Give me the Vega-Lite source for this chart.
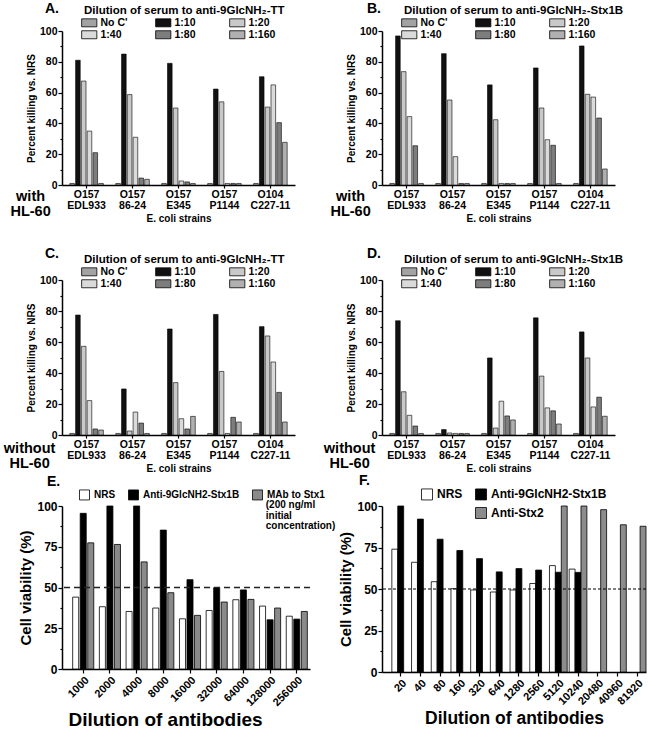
{
"$schema": "https://vega.github.io/schema/vega-lite/v6.json",
"background": "white",
"padding": {"left": 3, "top": 2, "right": 0, "bottom": 0},
"config": {
  "font": "Liberation Sans",
  "view": {"stroke": null},
  "axis": {"grid": false, "domainColor": "black", "domainWidth": 1.5, "tickColor": "black", "tickWidth": 1.2, "labelColor": "black", "labelFontWeight": "bold", "titleColor": "black", "titleFontWeight": "bold"},
  "legend": {"labelColor": "black", "labelFontWeight": "bold", "titleColor": "black", "titleFontWeight": "bold", "padding": 0, "symbolStrokeColor": "black", "symbolStrokeWidth": 0.8, "symbolOpacity": 1, "titleLimit": 400},
  "title": {"color": "black", "fontWeight": "bold", "fontSize": 14, "anchor": "start", "frame": "group"}
},
"datasets": {
  "killing": [
    {"panel":"A","strain":"O157 EDL933","dilution":"No C'","value":1},
    {"panel":"A","strain":"O157 EDL933","dilution":"1:10","value":81},
    {"panel":"A","strain":"O157 EDL933","dilution":"1:20","value":67.5},
    {"panel":"A","strain":"O157 EDL933","dilution":"1:40","value":35},
    {"panel":"A","strain":"O157 EDL933","dilution":"1:80","value":21},
    {"panel":"A","strain":"O157 EDL933","dilution":"1:160","value":1},
    {"panel":"A","strain":"O157 86-24","dilution":"No C'","value":1},
    {"panel":"A","strain":"O157 86-24","dilution":"1:10","value":85},
    {"panel":"A","strain":"O157 86-24","dilution":"1:20","value":58.7},
    {"panel":"A","strain":"O157 86-24","dilution":"1:40","value":31},
    {"panel":"A","strain":"O157 86-24","dilution":"1:80","value":4.5},
    {"panel":"A","strain":"O157 86-24","dilution":"1:160","value":3.7},
    {"panel":"A","strain":"O157 E345","dilution":"No C'","value":1},
    {"panel":"A","strain":"O157 E345","dilution":"1:10","value":79},
    {"panel":"A","strain":"O157 E345","dilution":"1:20","value":50},
    {"panel":"A","strain":"O157 E345","dilution":"1:40","value":2.6},
    {"panel":"A","strain":"O157 E345","dilution":"1:80","value":2},
    {"panel":"A","strain":"O157 E345","dilution":"1:160","value":1},
    {"panel":"A","strain":"O157 P1144","dilution":"No C'","value":1},
    {"panel":"A","strain":"O157 P1144","dilution":"1:10","value":62.3},
    {"panel":"A","strain":"O157 P1144","dilution":"1:20","value":54},
    {"panel":"A","strain":"O157 P1144","dilution":"1:40","value":1},
    {"panel":"A","strain":"O157 P1144","dilution":"1:80","value":1},
    {"panel":"A","strain":"O157 P1144","dilution":"1:160","value":1},
    {"panel":"A","strain":"O104 C227-11","dilution":"No C'","value":1},
    {"panel":"A","strain":"O104 C227-11","dilution":"1:10","value":70.3},
    {"panel":"A","strain":"O104 C227-11","dilution":"1:20","value":50.6},
    {"panel":"A","strain":"O104 C227-11","dilution":"1:40","value":65},
    {"panel":"A","strain":"O104 C227-11","dilution":"1:80","value":40.5},
    {"panel":"A","strain":"O104 C227-11","dilution":"1:160","value":27.7},
    {"panel":"B","strain":"O157 EDL933","dilution":"No C'","value":1},
    {"panel":"B","strain":"O157 EDL933","dilution":"1:10","value":96.8},
    {"panel":"B","strain":"O157 EDL933","dilution":"1:20","value":73.6},
    {"panel":"B","strain":"O157 EDL933","dilution":"1:40","value":44.4},
    {"panel":"B","strain":"O157 EDL933","dilution":"1:80","value":25.5},
    {"panel":"B","strain":"O157 EDL933","dilution":"1:160","value":1},
    {"panel":"B","strain":"O157 86-24","dilution":"No C'","value":1},
    {"panel":"B","strain":"O157 86-24","dilution":"1:10","value":85.3},
    {"panel":"B","strain":"O157 86-24","dilution":"1:20","value":55.2},
    {"panel":"B","strain":"O157 86-24","dilution":"1:40","value":18.4},
    {"panel":"B","strain":"O157 86-24","dilution":"1:80","value":1},
    {"panel":"B","strain":"O157 86-24","dilution":"1:160","value":1},
    {"panel":"B","strain":"O157 E345","dilution":"No C'","value":1},
    {"panel":"B","strain":"O157 E345","dilution":"1:10","value":65},
    {"panel":"B","strain":"O157 E345","dilution":"1:20","value":42.4},
    {"panel":"B","strain":"O157 E345","dilution":"1:40","value":1},
    {"panel":"B","strain":"O157 E345","dilution":"1:80","value":1},
    {"panel":"B","strain":"O157 E345","dilution":"1:160","value":1},
    {"panel":"B","strain":"O157 P1144","dilution":"No C'","value":1},
    {"panel":"B","strain":"O157 P1144","dilution":"1:10","value":76},
    {"panel":"B","strain":"O157 P1144","dilution":"1:20","value":50},
    {"panel":"B","strain":"O157 P1144","dilution":"1:40","value":29.4},
    {"panel":"B","strain":"O157 P1144","dilution":"1:80","value":25.8},
    {"panel":"B","strain":"O157 P1144","dilution":"1:160","value":1},
    {"panel":"B","strain":"O104 C227-11","dilution":"No C'","value":1},
    {"panel":"B","strain":"O104 C227-11","dilution":"1:10","value":90.3},
    {"panel":"B","strain":"O104 C227-11","dilution":"1:20","value":58.9},
    {"panel":"B","strain":"O104 C227-11","dilution":"1:40","value":57.1},
    {"panel":"B","strain":"O104 C227-11","dilution":"1:80","value":43.5},
    {"panel":"B","strain":"O104 C227-11","dilution":"1:160","value":10.4},
    {"panel":"C","strain":"O157 EDL933","dilution":"No C'","value":1},
    {"panel":"C","strain":"O157 EDL933","dilution":"1:10","value":77.4},
    {"panel":"C","strain":"O157 EDL933","dilution":"1:20","value":57.2},
    {"panel":"C","strain":"O157 EDL933","dilution":"1:40","value":22.2},
    {"panel":"C","strain":"O157 EDL933","dilution":"1:80","value":3.9},
    {"panel":"C","strain":"O157 EDL933","dilution":"1:160","value":3.2},
    {"panel":"C","strain":"O157 86-24","dilution":"No C'","value":1},
    {"panel":"C","strain":"O157 86-24","dilution":"1:10","value":29.7},
    {"panel":"C","strain":"O157 86-24","dilution":"1:20","value":2.6},
    {"panel":"C","strain":"O157 86-24","dilution":"1:40","value":14.8},
    {"panel":"C","strain":"O157 86-24","dilution":"1:80","value":7.7},
    {"panel":"C","strain":"O157 86-24","dilution":"1:160","value":1},
    {"panel":"C","strain":"O157 E345","dilution":"No C'","value":1},
    {"panel":"C","strain":"O157 E345","dilution":"1:10","value":68.4},
    {"panel":"C","strain":"O157 E345","dilution":"1:20","value":33.8},
    {"panel":"C","strain":"O157 E345","dilution":"1:40","value":10.5},
    {"panel":"C","strain":"O157 E345","dilution":"1:80","value":3.9},
    {"panel":"C","strain":"O157 E345","dilution":"1:160","value":12},
    {"panel":"C","strain":"O157 P1144","dilution":"No C'","value":1},
    {"panel":"C","strain":"O157 P1144","dilution":"1:10","value":77.8},
    {"panel":"C","strain":"O157 P1144","dilution":"1:20","value":41},
    {"panel":"C","strain":"O157 P1144","dilution":"1:40","value":1},
    {"panel":"C","strain":"O157 P1144","dilution":"1:80","value":11.4},
    {"panel":"C","strain":"O157 P1144","dilution":"1:160","value":8.4},
    {"panel":"C","strain":"O104 C227-11","dilution":"No C'","value":1},
    {"panel":"C","strain":"O104 C227-11","dilution":"1:10","value":69.9},
    {"panel":"C","strain":"O104 C227-11","dilution":"1:20","value":63.9},
    {"panel":"C","strain":"O104 C227-11","dilution":"1:40","value":47.1},
    {"panel":"C","strain":"O104 C227-11","dilution":"1:80","value":27.5},
    {"panel":"C","strain":"O104 C227-11","dilution":"1:160","value":8.4},
    {"panel":"D","strain":"O157 EDL933","dilution":"No C'","value":1},
    {"panel":"D","strain":"O157 EDL933","dilution":"1:10","value":73.7},
    {"panel":"D","strain":"O157 EDL933","dilution":"1:20","value":27.9},
    {"panel":"D","strain":"O157 EDL933","dilution":"1:40","value":12.7},
    {"panel":"D","strain":"O157 EDL933","dilution":"1:80","value":5.8},
    {"panel":"D","strain":"O157 EDL933","dilution":"1:160","value":1},
    {"panel":"D","strain":"O157 86-24","dilution":"No C'","value":1},
    {"panel":"D","strain":"O157 86-24","dilution":"1:10","value":3.5},
    {"panel":"D","strain":"O157 86-24","dilution":"1:20","value":1.3},
    {"panel":"D","strain":"O157 86-24","dilution":"1:40","value":1},
    {"panel":"D","strain":"O157 86-24","dilution":"1:80","value":1},
    {"panel":"D","strain":"O157 86-24","dilution":"1:160","value":1},
    {"panel":"D","strain":"O157 E345","dilution":"No C'","value":1},
    {"panel":"D","strain":"O157 E345","dilution":"1:10","value":49.7},
    {"panel":"D","strain":"O157 E345","dilution":"1:20","value":4.5},
    {"panel":"D","strain":"O157 E345","dilution":"1:40","value":21.8},
    {"panel":"D","strain":"O157 E345","dilution":"1:80","value":12.3},
    {"panel":"D","strain":"O157 E345","dilution":"1:160","value":9.7},
    {"panel":"D","strain":"O157 P1144","dilution":"No C'","value":1},
    {"panel":"D","strain":"O157 P1144","dilution":"1:10","value":75.6},
    {"panel":"D","strain":"O157 P1144","dilution":"1:20","value":38},
    {"panel":"D","strain":"O157 P1144","dilution":"1:40","value":17.5},
    {"panel":"D","strain":"O157 P1144","dilution":"1:80","value":15.6},
    {"panel":"D","strain":"O157 P1144","dilution":"1:160","value":7.1},
    {"panel":"D","strain":"O104 C227-11","dilution":"No C'","value":1},
    {"panel":"D","strain":"O104 C227-11","dilution":"1:10","value":66.5},
    {"panel":"D","strain":"O104 C227-11","dilution":"1:20","value":49.7},
    {"panel":"D","strain":"O104 C227-11","dilution":"1:40","value":18.1},
    {"panel":"D","strain":"O104 C227-11","dilution":"1:80","value":24.4},
    {"panel":"D","strain":"O104 C227-11","dilution":"1:160","value":12.1}
  ],
  "viabilityE": [
    {"dilution":"1000","series":"NRS","value":44.1},
    {"dilution":"1000","series":"Anti-9GlcNH2-Stx1B","value":95.5},
    {"dilution":"1000","series":"MAb to Stx1","value":77.4},
    {"dilution":"2000","series":"NRS","value":38.2},
    {"dilution":"2000","series":"Anti-9GlcNH2-Stx1B","value":100},
    {"dilution":"2000","series":"MAb to Stx1","value":76.4},
    {"dilution":"4000","series":"NRS","value":35.3},
    {"dilution":"4000","series":"Anti-9GlcNH2-Stx1B","value":100},
    {"dilution":"4000","series":"MAb to Stx1","value":65.7},
    {"dilution":"8000","series":"NRS","value":37.4},
    {"dilution":"8000","series":"Anti-9GlcNH2-Stx1B","value":85.2},
    {"dilution":"8000","series":"MAb to Stx1","value":46.8},
    {"dilution":"16000","series":"NRS","value":30.8},
    {"dilution":"16000","series":"Anti-9GlcNH2-Stx1B","value":54.8},
    {"dilution":"16000","series":"MAb to Stx1","value":32.9},
    {"dilution":"32000","series":"NRS","value":35.9},
    {"dilution":"32000","series":"Anti-9GlcNH2-Stx1B","value":49.9},
    {"dilution":"32000","series":"MAb to Stx1","value":41.1},
    {"dilution":"64000","series":"NRS","value":42.5},
    {"dilution":"64000","series":"Anti-9GlcNH2-Stx1B","value":48.5},
    {"dilution":"64000","series":"MAb to Stx1","value":42.7},
    {"dilution":"128000","series":"NRS","value":38.6},
    {"dilution":"128000","series":"Anti-9GlcNH2-Stx1B","value":30.2},
    {"dilution":"128000","series":"MAb to Stx1","value":37.4},
    {"dilution":"256000","series":"NRS","value":32.4},
    {"dilution":"256000","series":"Anti-9GlcNH2-Stx1B","value":30.6},
    {"dilution":"256000","series":"MAb to Stx1","value":35.3}
  ],
  "viabilityF": [
    {"dilution":"20","series":"NRS","value":74},
    {"dilution":"20","series":"Anti-9GlcNH2-Stx1B","value":100},
    {"dilution":"40","series":"NRS","value":66.1},
    {"dilution":"40","series":"Anti-9GlcNH2-Stx1B","value":92.1},
    {"dilution":"80","series":"NRS","value":54.4},
    {"dilution":"80","series":"Anti-9GlcNH2-Stx1B","value":80},
    {"dilution":"160","series":"NRS","value":50.2},
    {"dilution":"160","series":"Anti-9GlcNH2-Stx1B","value":73.2},
    {"dilution":"320","series":"NRS","value":49.4},
    {"dilution":"320","series":"Anti-9GlcNH2-Stx1B","value":68.3},
    {"dilution":"640","series":"NRS","value":48.2},
    {"dilution":"640","series":"Anti-9GlcNH2-Stx1B","value":60.3},
    {"dilution":"1280","series":"NRS","value":49.4},
    {"dilution":"1280","series":"Anti-9GlcNH2-Stx1B","value":62.3},
    {"dilution":"2560","series":"NRS","value":53.3},
    {"dilution":"2560","series":"Anti-9GlcNH2-Stx1B","value":61.4},
    {"dilution":"5120","series":"NRS","value":64.1},
    {"dilution":"5120","series":"Anti-9GlcNH2-Stx1B","value":60.1},
    {"dilution":"5120","series":"Anti-Stx2","value":100},
    {"dilution":"10240","series":"NRS","value":62},
    {"dilution":"10240","series":"Anti-9GlcNH2-Stx1B","value":60},
    {"dilution":"10240","series":"Anti-Stx2","value":100},
    {"dilution":"20480","series":"Anti-Stx2","value":97.8},
    {"dilution":"40960","series":"Anti-Stx2","value":88.7},
    {"dilution":"81920","series":"Anti-Stx2","value":87.8}
  ]
},
"columns": 2,
"bounds": "flush",
"align": {"row": "each", "column": "none"},
"spacing": {"row": 71, "column": 72},
"resolve": {"scale": {"fill": "independent", "xOffset": "independent", "x": "independent", "y": "independent"}, "legend": {"fill": "independent"}},
"concat": [
  {
    "width": 239, "height": 154,
    "title": {"text": "A.", "dx": -17, "dy": 15},
    "layer": [
      {
        "data": {"name": "killing"},
        "transform": [{"filter": "datum.panel === 'A'"}],
        "mark": {"type": "bar", "stroke": "black", "strokeWidth": 0.6},
        "encoding": {
          "x": {"field": "strain", "type": "nominal",
                "scale": {"domain": ["O157 EDL933","O157 86-24","O157 E345","O157 P1144","O104 C227-11"], "range": [0, 233], "paddingInner": 0.27, "paddingOuter": 0.17},
                "axis": {"title": "E. coli strains", "titleFontSize": 10, "titlePadding": 2, "labelExpr": "split(datum.label, ' ')", "labelAngle": 0, "labelFontSize": 10.5, "labelLineHeight": 11.5, "labelPadding": 1, "tickSize": 3}},
          "xOffset": {"field": "dilution", "type": "nominal", "scale": {"domain": ["No C'","1:10","1:20","1:40","1:80","1:160"], "paddingInner": 0.2}},
          "y": {"field": "value", "type": "quantitative", "scale": {"domain": [0, 100]},
                "axis": {"title": "Percent killing vs. NRS", "titleFontSize": 10, "titlePadding": 3, "values": [0,10,20,30,40,50,60,70,80,90,100], "tickCount": 40, "labelOverlap": false, "labelExpr": "datum.value % 20 === 0 ? datum.label : ''", "labelFontSize": 10.5, "labelPadding": 1, "tickSize": {"condition": {"test": "datum.value % 20 !== 0", "value": 2}, "value": 4}}},
          "fill": {"field": "dilution", "type": "nominal",
                   "scale": {"domain": ["No C'","1:10","1:20","1:40","1:80","1:160"], "range": ["#a3a3a3","#111111","#c9c9c9","#dadada","#7d7d7d","#b0b0b0"]},
                   "legend": {"orient": "none", "legendX": 22, "legendY": -26, "direction": "horizontal", "columns": 3, "gridAlign": "all", "title": "Dilution of serum to anti-9GlcNH₂-TT", "titleFontSize": 11.5, "titleAnchor": "start", "titlePadding": 1, "labelFontSize": 10.5, "labelOffset": 6, "columnPadding": 26, "rowPadding": 0, "symbolType": "M-1.9,-1H1.9V1H-1.9Z", "symbolSize": 64}}
        }
      },
      {
        "data": {"values": [{}]},
        "mark": {"type": "text", "fontWeight": "bold", "fontSize": 14.5, "lineHeight": 15, "align": "center", "baseline": "top", "dx": -56, "dy": 5, "color": "black"},
        "encoding": {"x": {"datum": "O157 EDL933", "type": "nominal"}, "y": {"datum": 0, "type": "quantitative"}, "text": {"value": ["with", "HL-60"]}}
      }
    ]
  },
  {
    "width": 239, "height": 154,
    "title": {"text": "B.", "dx": -15, "dy": 15},
    "layer": [
      {
        "data": {"name": "killing"},
        "transform": [{"filter": "datum.panel === 'B'"}],
        "mark": {"type": "bar", "stroke": "black", "strokeWidth": 0.6},
        "encoding": {
          "x": {"field": "strain", "type": "nominal",
                "scale": {"domain": ["O157 EDL933","O157 86-24","O157 E345","O157 P1144","O104 C227-11"], "range": [0, 233], "paddingInner": 0.27, "paddingOuter": 0.17},
                "axis": {"title": "E. coli strains", "titleFontSize": 10, "titlePadding": 2, "labelExpr": "split(datum.label, ' ')", "labelAngle": 0, "labelFontSize": 10.5, "labelLineHeight": 11.5, "labelPadding": 1, "tickSize": 3}},
          "xOffset": {"field": "dilution", "type": "nominal", "scale": {"domain": ["No C'","1:10","1:20","1:40","1:80","1:160"], "paddingInner": 0.2}},
          "y": {"field": "value", "type": "quantitative", "scale": {"domain": [0, 100]},
                "axis": {"title": "Percent killing vs. NRS", "titleFontSize": 10, "titlePadding": 3, "values": [0,10,20,30,40,50,60,70,80,90,100], "tickCount": 40, "labelOverlap": false, "labelExpr": "datum.value % 20 === 0 ? datum.label : ''", "labelFontSize": 10.5, "labelPadding": 1, "tickSize": {"condition": {"test": "datum.value % 20 !== 0", "value": 2}, "value": 4}}},
          "fill": {"field": "dilution", "type": "nominal",
                   "scale": {"domain": ["No C'","1:10","1:20","1:40","1:80","1:160"], "range": ["#a3a3a3","#111111","#c9c9c9","#dadada","#7d7d7d","#b0b0b0"]},
                   "legend": {"orient": "none", "legendX": 22, "legendY": -26, "direction": "horizontal", "columns": 3, "gridAlign": "all", "title": "Dilution of serum to anti-9GlcNH₂-Stx1B", "titleFontSize": 11.5, "titleAnchor": "start", "titlePadding": 1, "labelFontSize": 10.5, "labelOffset": 6, "columnPadding": 26, "rowPadding": 0, "symbolType": "M-1.9,-1H1.9V1H-1.9Z", "symbolSize": 64}}
        }
      },
      {
        "data": {"values": [{}]},
        "mark": {"type": "text", "fontWeight": "bold", "fontSize": 14.5, "lineHeight": 15, "align": "center", "baseline": "top", "dx": -56, "dy": 5, "color": "black"},
        "encoding": {"x": {"datum": "O157 EDL933", "type": "nominal"}, "y": {"datum": 0, "type": "quantitative"}, "text": {"value": ["with", "HL-60"]}}
      }
    ]
  },
  {
    "width": 239, "height": 179,
    "title": {"text": "C.", "dx": -17, "dy": 11},
    "layer": [
      {
        "data": {"name": "killing"},
        "transform": [{"filter": "datum.panel === 'C'"}],
        "mark": {"type": "bar", "stroke": "black", "strokeWidth": 0.6},
        "encoding": {
          "x": {"field": "strain", "type": "nominal",
                "scale": {"domain": ["O157 EDL933","O157 86-24","O157 E345","O157 P1144","O104 C227-11"], "range": [0, 233], "paddingInner": 0.27, "paddingOuter": 0.17},
                "axis": {"title": "E. coli strains", "titleFontSize": 10, "titlePadding": 2, "labelExpr": "split(datum.label, ' ')", "labelAngle": 0, "labelFontSize": 10.5, "labelLineHeight": 11.5, "labelPadding": 1, "tickSize": 3}},
          "xOffset": {"field": "dilution", "type": "nominal", "scale": {"domain": ["No C'","1:10","1:20","1:40","1:80","1:160"], "paddingInner": 0.2}},
          "y": {"field": "value", "type": "quantitative", "scale": {"domain": [0, 100], "range": [179, 24]},
                "axis": {"title": "Percent killing vs. NRS", "titleFontSize": 10, "titlePadding": 3, "values": [0,10,20,30,40,50,60,70,80,90,100], "tickCount": 40, "labelOverlap": false, "labelExpr": "datum.value % 20 === 0 ? datum.label : ''", "labelFontSize": 10.5, "labelPadding": 1, "tickSize": {"condition": {"test": "datum.value % 20 !== 0", "value": 2}, "value": 4}}},
          "fill": {"field": "dilution", "type": "nominal",
                   "scale": {"domain": ["No C'","1:10","1:20","1:40","1:80","1:160"], "range": ["#a3a3a3","#111111","#c9c9c9","#dadada","#7d7d7d","#b0b0b0"]},
                   "legend": {"orient": "none", "legendX": 22, "legendY": -2, "direction": "horizontal", "columns": 3, "gridAlign": "all", "title": "Dilution of serum to anti-9GlcNH₂-TT", "titleFontSize": 11.5, "titleAnchor": "start", "titlePadding": 1, "labelFontSize": 10.5, "labelOffset": 6, "columnPadding": 26, "rowPadding": 0, "symbolType": "M-1.9,-1H1.9V1H-1.9Z", "symbolSize": 64}}
        }
      },
      {
        "data": {"values": [{}]},
        "mark": {"type": "text", "fontWeight": "bold", "fontSize": 14.5, "lineHeight": 15, "align": "center", "baseline": "top", "dx": -57, "dy": 7, "color": "black"},
        "encoding": {"x": {"datum": "O157 EDL933", "type": "nominal"}, "y": {"datum": 0, "type": "quantitative"}, "text": {"value": ["without", "HL-60"]}}
      }
    ]
  },
  {
    "width": 239, "height": 179,
    "title": {"text": "D.", "dx": -15, "dy": 11},
    "layer": [
      {
        "data": {"name": "killing"},
        "transform": [{"filter": "datum.panel === 'D'"}],
        "mark": {"type": "bar", "stroke": "black", "strokeWidth": 0.6},
        "encoding": {
          "x": {"field": "strain", "type": "nominal",
                "scale": {"domain": ["O157 EDL933","O157 86-24","O157 E345","O157 P1144","O104 C227-11"], "range": [0, 233], "paddingInner": 0.27, "paddingOuter": 0.17},
                "axis": {"title": "E. coli strains", "titleFontSize": 10, "titlePadding": 2, "labelExpr": "split(datum.label, ' ')", "labelAngle": 0, "labelFontSize": 10.5, "labelLineHeight": 11.5, "labelPadding": 1, "tickSize": 3}},
          "xOffset": {"field": "dilution", "type": "nominal", "scale": {"domain": ["No C'","1:10","1:20","1:40","1:80","1:160"], "paddingInner": 0.2}},
          "y": {"field": "value", "type": "quantitative", "scale": {"domain": [0, 100], "range": [179, 24]},
                "axis": {"title": "Percent killing vs. NRS", "titleFontSize": 10, "titlePadding": 3, "values": [0,10,20,30,40,50,60,70,80,90,100], "tickCount": 40, "labelOverlap": false, "labelExpr": "datum.value % 20 === 0 ? datum.label : ''", "labelFontSize": 10.5, "labelPadding": 1, "tickSize": {"condition": {"test": "datum.value % 20 !== 0", "value": 2}, "value": 4}}},
          "fill": {"field": "dilution", "type": "nominal",
                   "scale": {"domain": ["No C'","1:10","1:20","1:40","1:80","1:160"], "range": ["#a3a3a3","#111111","#c9c9c9","#dadada","#7d7d7d","#b0b0b0"]},
                   "legend": {"orient": "none", "legendX": 22, "legendY": -2, "direction": "horizontal", "columns": 3, "gridAlign": "all", "title": "Dilution of serum to anti-9GlcNH₂-Stx1B", "titleFontSize": 11.5, "titleAnchor": "start", "titlePadding": 1, "labelFontSize": 10.5, "labelOffset": 6, "columnPadding": 26, "rowPadding": 0, "symbolType": "M-1.9,-1H1.9V1H-1.9Z", "symbolSize": 64}}
        }
      },
      {
        "data": {"values": [{}]},
        "mark": {"type": "text", "fontWeight": "bold", "fontSize": 14.5, "lineHeight": 15, "align": "center", "baseline": "top", "dx": -57, "dy": 7, "color": "black"},
        "encoding": {"x": {"datum": "O157 EDL933", "type": "nominal"}, "y": {"datum": 0, "type": "quantitative"}, "text": {"value": ["without", "HL-60"]}}
      }
    ]
  },
  {
    "width": 248, "height": 163,
    "title": {"text": "E.", "dx": -15, "dy": 4},
    "layer": [
      {
        "data": {"name": "viabilityE"},
        "mark": {"type": "bar", "stroke": "black", "strokeWidth": 0.8},
        "encoding": {
          "x": {"field": "dilution", "type": "nominal",
                "scale": {"domain": ["1000","2000","4000","8000","16000","32000","64000","128000","256000"], "paddingInner": 0.21, "paddingOuter": 0.25, "align": 0.8},
                "axis": {"title": "Dilution of antibodies", "titleFontSize": 19, "titlePadding": 3, "titleX": 103, "labelAngle": -45, "labelFontSize": 11, "labelPadding": 1, "tickSize": 4}},
          "xOffset": {"field": "series", "type": "nominal", "scale": {"domain": ["NRS","Anti-9GlcNH2-Stx1B","MAb to Stx1"], "paddingInner": 0.2}},
          "y": {"field": "value", "type": "quantitative", "scale": {"domain": [0, 100]},
                "axis": {"title": "Cell viability (%)", "titleFontSize": 15, "titlePadding": 3, "values": [0,12.5,25,37.5,50,62.5,75,87.5,100], "tickCount": 40, "labelOverlap": false, "labelExpr": "datum.value % 25 === 0 ? datum.label : ''", "labelFontSize": 12, "labelPadding": 1, "tickSize": {"condition": {"test": "datum.value % 25 !== 0", "value": 2}, "value": 4}}},
          "fill": {"field": "series", "type": "nominal",
                   "scale": {"domain": ["NRS","Anti-9GlcNH2-Stx1B","MAb to Stx1"], "range": ["white","black","#8a8a8a"]},
                   "legend": {"orient": "none", "legendX": 17, "legendY": -17, "direction": "horizontal", "columns": 3, "gridAlign": "each", "title": null, "labelFontSize": 10, "labelOffset": 4, "columnPadding": 10, "symbolType": "square", "symbolSize": 100}}
        }
      },
      {
        "data": {"values": [{}]},
        "mark": {"type": "text", "fontWeight": "bold", "fontSize": 10, "lineHeight": 10.5, "align": "left", "baseline": "top", "dx": -31, "dy": -6, "color": "black"},
        "encoding": {"x": {"datum": "256000", "type": "nominal"}, "y": {"datum": 100, "type": "quantitative"}, "text": {"value": ["(200 ng/ml", "initial", "concentration)"]}}
      },
      {
        "data": {"values": [{}]},
        "mark": {"type": "rule", "strokeDash": [6, 4], "strokeWidth": 1.5, "color": "#222222"},
        "encoding": {"y": {"datum": 50, "type": "quantitative"}}
      }
    ]
  },
  {
    "width": 264, "height": 166,
    "title": {"text": "F.", "dx": -23, "dy": 4},
    "layer": [
      {
        "data": {"name": "viabilityF"},
        "mark": {"type": "bar", "stroke": "black", "strokeWidth": 0.8},
        "encoding": {
          "x": {"field": "dilution", "type": "nominal",
                "scale": {"domain": ["20","40","80","160","320","640","1280","2560","5120","10240","20480","40960","81920"], "paddingInner": 0.1, "paddingOuter": 0.25, "align": 1},
                "axis": {"title": "Dilution of antibodies", "titleFontSize": 17.5, "titlePadding": 3, "labelAngle": -45, "labelFontSize": 11, "labelPadding": 1, "tickSize": 4}},
          "xOffset": {"field": "series", "type": "nominal", "scale": {"domain": ["NRS","Anti-9GlcNH2-Stx1B","Anti-Stx2"], "paddingInner": 0}},
          "y": {"field": "value", "type": "quantitative", "scale": {"domain": [0, 100]},
                "axis": {"title": "Cell viability (%)", "titleFontSize": 15, "titlePadding": 3, "values": [0,12.5,25,37.5,50,62.5,75,87.5,100], "tickCount": 40, "labelOverlap": false, "labelExpr": "datum.value % 25 === 0 ? datum.label : ''", "labelFontSize": 12, "labelPadding": 1, "tickSize": {"condition": {"test": "datum.value % 25 !== 0", "value": 2}, "value": 4}}},
          "fill": {"field": "series", "type": "nominal",
                   "scale": {"domain": ["NRS","Anti-9GlcNH2-Stx1B"," ","Anti-Stx2"], "range": ["white","black","rgba(0,0,0,0)","#8c8c8c"]},
                   "legend": {"orient": "none", "legendX": 39, "legendY": -18, "direction": "horizontal", "columns": 2, "gridAlign": "each", "title": null, "labelFontSize": 12, "labelOffset": 4, "columnPadding": 10, "rowPadding": 3, "symbolType": "square", "symbolSize": 121,
                              "encode": {"symbols": {"update": {"strokeOpacity": {"signal": "datum.value === ' ' ? 0 : 1"}}}}}}
        }
      },
      {
        "data": {"values": [{}]},
        "mark": {"type": "rule", "strokeDash": [3, 2], "strokeWidth": 1, "color": "black"},
        "encoding": {"y": {"datum": 50, "type": "quantitative"}}
      }
    ]
  }
]
}
